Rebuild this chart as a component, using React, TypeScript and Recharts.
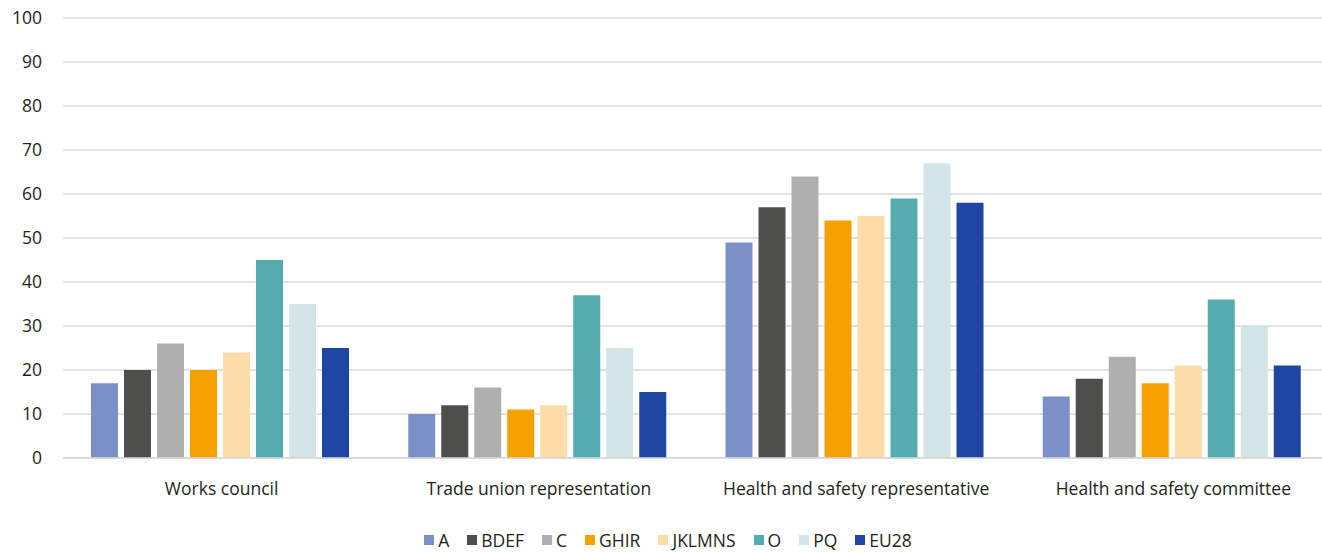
import { Bar, BarChart, CartesianGrid, Legend, XAxis, YAxis } from 'recharts';

const categories = [
  'Works council',
  'Trade union representation',
  'Health and safety representative',
  'Health and safety committee',
];

const seriesNames = ['A', 'BDEF', 'C', 'GHIR', 'JKLMNS', 'O', 'PQ', 'EU28'];

const valuesA = [17, 10, 49, 14];
const valuesBDEF = [20, 12, 57, 18];
const valuesC = [26, 16, 64, 23];
const valuesGHIR = [20, 11, 54, 17];
const valuesJKLMNS = [24, 12, 55, 21];
const valuesO = [45, 37, 59, 36];
const valuesPQ = [35, 25, 67, 30];
const valuesEU28 = [25, 15, 58, 21];

const yTicks = [0, 10, 20, 30, 40, 50, 60, 70, 80, 90, 100];

const COLORS: Record<string, string> = {
  A: '#7b90c7',
  BDEF: '#4e4e4d',
  C: '#aeafae',
  GHIR: '#f5a100',
  JKLMNS: '#fddca9',
  O: '#55acae',
  PQ: '#d4e5e8',
  EU28: '#1f46a0',
};

const seriesValues = [valuesA, valuesBDEF, valuesC, valuesGHIR, valuesJKLMNS, valuesO, valuesPQ, valuesEU28];

const data = categories.map((name, i) => {
  const row: Record<string, string | number> = { name };
  seriesNames.forEach((s, j) => {
    row[s] = seriesValues[j][i];
  });
  return row;
});

const FONT = '"Open Sans", sans-serif';
const TEXT = '#231f20';
const FS = 17.5;

function ChartLegend() {
  return (
    <div
      style={{
        display: 'flex',
        justifyContent: 'center',
        gap: 18,
        height: 24,
        lineHeight: '24px',
        fontFamily: FONT,
        fontSize: FS,
        color: TEXT,
        paddingLeft: 4,
      }}
    >
      {seriesNames.map((s) => (
        <span key={s} style={{ display: 'inline-flex', alignItems: 'center' }}>
          <span style={{ width: 10, height: 10, background: COLORS[s], marginRight: 4, display: 'inline-block' }} />
          {s}
        </span>
      ))}
    </div>
  );
}

export default function App() {
  return (
    <div style={{ position: 'absolute', left: 0, top: 0, width: 1322, height: 552, overflow: 'hidden', background: '#fff' }}>
      <BarChart
        width={1332}
        height={552}
        data={data}
        margin={{ top: 18, right: 0, left: 0, bottom: 0 }}
        barCategoryGap={28}
        barGap={6}
      >
        <CartesianGrid vertical={false} stroke="#d9d9d9" strokeWidth={1.5} />
        <XAxis
          dataKey="name"
          axisLine={{ stroke: '#d9d9d9', strokeWidth: 1.5 }}
          tickLine={false}
          tickMargin={19}
          height={70}
          interval={0}
          tick={{ fill: TEXT, fontSize: FS, fontFamily: FONT }}
        />
        <YAxis
          domain={[0, 100]}
          ticks={yTicks}
          width={63}
          axisLine={false}
          tickLine={false}
          tickMargin={15}
          interval={0}
          tick={{ fill: TEXT, fontSize: FS, fontFamily: FONT }}
        />
        <Legend verticalAlign="bottom" content={() => <ChartLegend />} wrapperStyle={{ bottom: 0 }} />
        {seriesNames.map((s) => (
          <Bar key={s} dataKey={s} fill={COLORS[s]} isAnimationActive={false} />
        ))}
      </BarChart>
    </div>
  );
}
